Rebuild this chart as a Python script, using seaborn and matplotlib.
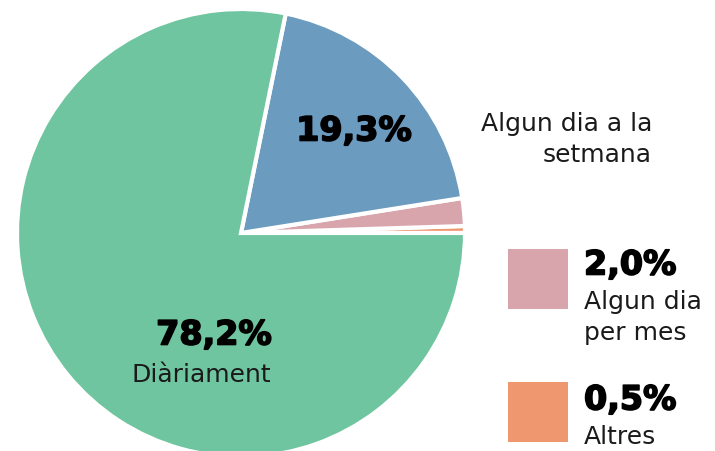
import matplotlib
matplotlib.use("Agg")
import matplotlib.pyplot as plt
import matplotlib.patheffects as pe
from matplotlib.patches import Rectangle
import seaborn as sns

sns.set_theme(style="white")
plt.rcParams['font.family'] = ['DejaVu Sans']

# data, counterclockwise from 3 o'clock
categories = ["Altres", "Algun dia per mes", "Algun dia a la setmana", "Diàriament"]
values = [0.5, 2.0, 19.3, 78.2]
pct_labels = ["0,5%", "2,0%", "19,3%", "78,2%"]
colors = ["#EF9870", "#D9A5AD", "#6C9BC0", "#6FC5A0"]

W, H = 715, 451
fig = plt.figure(figsize=(W / 100, H / 100), dpi=100)
ax = fig.add_axes([0, 0, 1, 1])

def Y(py):
    return H - py

ax.pie(values, colors=colors, startangle=0, counterclock=True,
       center=(241, Y(233)), radius=224, frame=True,
       wedgeprops=dict(edgecolor="white", linewidth=3))
ax.set_xlim(0, W)
ax.set_ylim(0, H)
ax.set_aspect("equal")
ax.axis("off")

big = dict(fontsize=24, fontweight="bold", color="black", va="center",
           path_effects=[pe.withStroke(linewidth=1.2, foreground="black")])
small = dict(fontsize=18, color="#1a1a1a", va="center")

# labels on the pie
ax.text(354, Y(131), pct_labels[2], ha="center", **big)
ax.text(652, Y(124), "Algun dia a la", ha="right", **small)
ax.text(652, Y(155), "setmana", ha="right", **small)

ax.text(214, Y(335), pct_labels[3], ha="center", **big)
ax.text(201, Y(375), "Diàriament", ha="center", **small)

# legend-like boxes for the small slices
ax.add_patch(Rectangle((508, Y(309)), 60, 60, color=colors[1], lw=0))
ax.text(584, Y(265), pct_labels[1], ha="left", **big)
ax.text(584, Y(302), "Algun dia", ha="left", **small)
ax.text(584, Y(333), "per mes", ha="left", **small)

ax.add_patch(Rectangle((508, Y(442)), 60, 60, color=colors[0], lw=0))
ax.text(584, Y(400), pct_labels[0], ha="left", **big)
ax.text(584, Y(437), categories[0], ha="left", **small)

fig.savefig("out.png", dpi=100)
